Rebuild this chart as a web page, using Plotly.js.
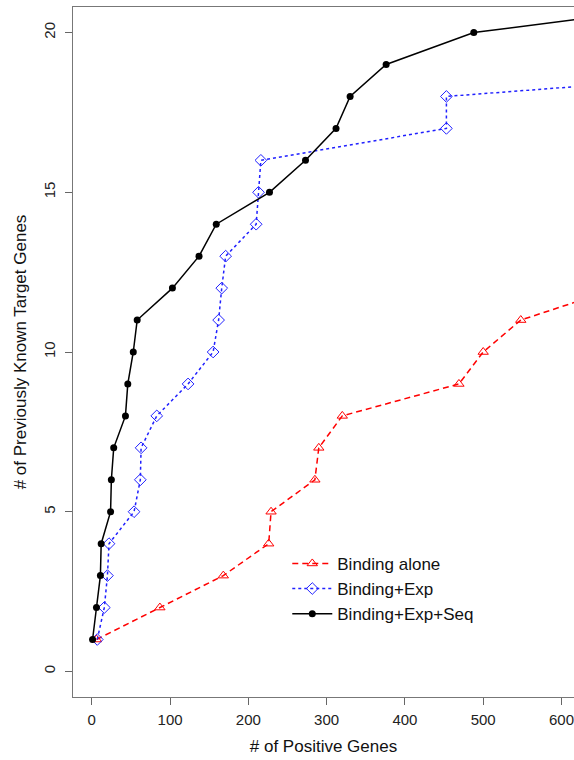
<!DOCTYPE html>
<html>
<head>
<meta charset="utf-8">
<script src="https://cdn.plot.ly/plotly-3.0.1.min.js"></script>
<style>html,body{margin:0;padding:0;background:#fff;}#chart{width:574px;height:760px;}</style>
</head>
<body>
<div id="chart"></div>
<script>
// Binding alone
const bindX = [6, 87, 168, 226, 229, 285, 290, 320, 469, 500, 548, 672];
const bindY = [1, 2, 3, 4, 5, 6, 7, 8, 9, 10, 11, 12];
// Binding+Exp
const expX = [7, 16, 20, 22, 54, 62, 63, 83, 123, 155, 162, 166, 171, 210, 213, 216, 453, 453, 990];
const expY = [1, 2, 3, 4, 5, 6, 7, 8, 9, 10, 11, 12, 13, 14, 15, 16, 17, 18, 19];
// Binding+Exp+Seq
const seqX = [1, 6, 11, 12, 24, 25, 28, 43, 46, 53, 58, 103, 137, 159, 227, 273, 312, 330, 376, 488, 808];
const seqY = [1, 2, 3, 4, 5, 6, 7, 8, 9, 10, 11, 12, 13, 14, 15, 16, 17, 18, 19, 20, 21];

const xTicks = [0, 100, 200, 300, 400, 500, 600];
const yTicks = [0, 5, 10, 15, 20];

const font = "Liberation Sans, Arial, Helvetica, sans-serif";

const traces = [
  {x: bindX, y: bindY, name: "Binding alone", type: "scatter", mode: "lines+markers",
   line: {color: "#ff0000", width: 1.5, dash: "6px,4px"},
   marker: {symbol: "triangle-up-open", size: 9, color: "#ff0000", line: {width: 1, color: "#ff0000"}}},
  {x: expX, y: expY, name: "Binding+Exp", type: "scatter", mode: "lines+markers",
   line: {color: "#2020ff", width: 1.5, dash: "dot"},
   marker: {symbol: "diamond-open", size: 9, color: "#2020ff", line: {width: 1, color: "#2020ff"}}},
  {x: seqX, y: seqY, name: "Binding+Exp+Seq", type: "scatter", mode: "lines+markers",
   line: {color: "#000000", width: 1.5},
   marker: {symbol: "circle", size: 7, color: "#000000"}}
];

const layout = {
  width: 574, height: 760,
  margin: {l: 72.5, r: 0, t: 7, b: 63},
  paper_bgcolor: "#ffffff", plot_bgcolor: "#ffffff",
  font: {family: font, size: 15, color: "#222"},
  showlegend: true,
  legend: {x: 0.4277, y: 0.219, xanchor: "left", yanchor: "top", bgcolor: "rgba(0,0,0,0)",
           font: {family: font, size: 17, color: "#111"}, tracegroupgap: 0, itemwidth: 40},
  xaxis: {range: [-24, 616], tickvals: xTicks, ticktext: xTicks.map(String), ticks: "outside", ticklen: 7,
          tickcolor: "#666", showgrid: false, zeroline: false, showline: true, linecolor: "#777", linewidth: 1,
          mirror: true, automargin: false, ticklabelstandoff: 2,
          tickfont: {family: font, size: 15, color: "#222"},
          title: {text: "# of Positive Genes", font: {family: font, size: 17, color: "#111"}, standoff: 13}},
  yaxis: {range: [-0.8, 20.8], tickvals: yTicks, ticktext: yTicks.map(String), ticks: "outside", ticklen: 7,
          tickcolor: "#666", showgrid: false, zeroline: false, showline: true, linecolor: "#777", linewidth: 1,
          tickangle: -90, automargin: false, ticklabelstandoff: 4,
          tickfont: {family: font, size: 15, color: "#222"},
          title: {text: "# of Previously Known Target Genes", font: {family: font, size: 17, color: "#111"}, standoff: 10}}
};

Plotly.newPlot("chart", traces, layout, {displayModeBar: false, staticPlot: true});
</script>
</body>
</html>
